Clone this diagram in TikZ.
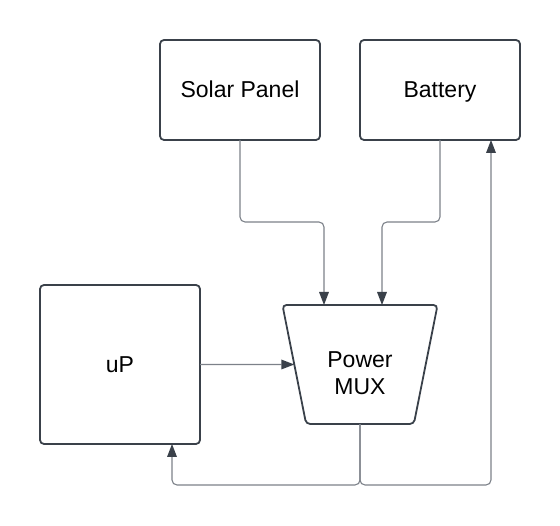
\documentclass[tikz,border=0pt]{standalone}
\usepackage{fontspec}
\setmainfont{Liberation Sans}
\usetikzlibrary{arrows.meta,shapes.geometric}
\definecolor{edge}{HTML}{3A414A}
\definecolor{wire}{HTML}{7C8189}
\tikzset{
  blockbox/.style={draw=edge,line width=1.8pt,rounded corners=4pt,fill=white,
    minimum width=160pt,align=center,font=\fontsize{23}{27}\selectfont,
    text height=16pt,text depth=0pt,inner sep=0pt,outer sep=0pt},
  muxbox/.style={draw=edge,line width=1.8pt,rounded corners=4pt,fill=white,trapezium,
    trapezium stretches=true,shape border rotate=180,trapezium angle=76.8,
    minimum width=156pt,minimum height=119pt,align=center,
    font=\fontsize{23}{27}\selectfont,inner sep=0pt,outer sep=0pt},
  conn/.style={draw=wire,line width=1.1pt,rounded corners=5pt,
    -{Triangle[length=13pt,width=10pt,color=edge,fill=edge,line width=0pt]}},
}
\begin{document}
\begin{tikzpicture}[x=1pt,y=-1pt]
\useasboundingbox (0,0) rectangle (560,526);
\node[blockbox,minimum height=100pt] (sp) at (240,90) {Solar Panel};
\node[blockbox,minimum height=100pt] (bat) at (440,90) {Battery};
\node[blockbox,minimum height=159pt] (up) at (120,364.5) {uP};
\node[muxbox] (mux) at (360,364.5) {\rule{0pt}{34pt}Power\\MUX};
\draw[conn] (sp.south) -- ++(0,82) -| ([xshift=-36pt]mux.north);
\draw[conn] (bat.south) -- ++(0,82) -| ([xshift=22pt]mux.north);
\draw[conn] (up) -- (mux);
\draw[conn] (mux.south) -- ++(0,61) -| ([xshift=52pt]up.south);
\draw[conn] (mux.south) -- ++(0,61) -| ([xshift=51pt]bat.south);
\end{tikzpicture}
\end{document}
